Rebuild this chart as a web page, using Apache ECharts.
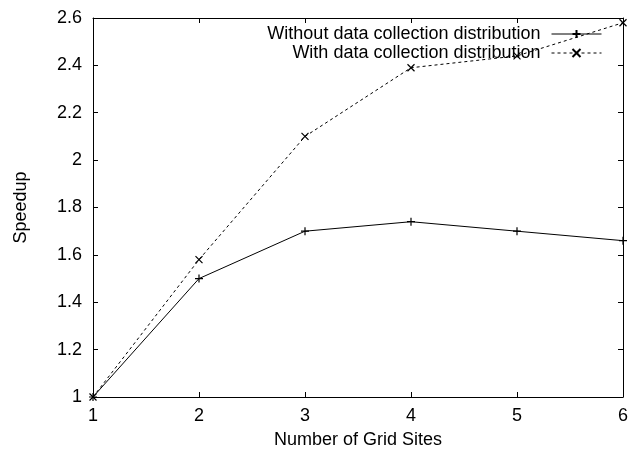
<!DOCTYPE html>
<html>
<head>
<meta charset="utf-8">
<script src="https://cdn.jsdelivr.net/npm/echarts@6/dist/echarts.min.js"></script>
<style>
  html, body { margin: 0; padding: 0; background: #fff; }
  #chart { width: 632px; height: 454px; }
</style>
</head>
<body>
<div id="chart"></div>
<script>
var gridSites = [1, 2, 3, 4, 5, 6]
var withoutDist = [1.0, 1.5, 1.70, 1.74, 1.70, 1.66]
var withDist = [1.0, 1.58, 2.10, 2.39, 2.44, 2.58]

var FONT = 'Liberation Sans, Arial, Helvetica, sans-serif'
var PLUS = 'path://M0,-1L0,1M-1,0L1,0'
var CROSS = 'path://M-1,-1L1,1M-1,1L1,-1'

function pairs(xs, ys) {
  return xs.map(function (x, i) { return [x, ys[i]] })
}

var chart = echarts.init(document.getElementById('chart'))

var baseX = {
  type: 'value',
  min: 1,
  max: 6,
  interval: 1,
  axisLine: { show: true, lineStyle: { color: '#000', width: 1 } },
  axisTick: { show: true, inside: true, length: 5, lineStyle: { color: '#000' } },
  splitLine: { show: false }
}
var baseY = {
  type: 'value',
  min: 1,
  max: 2.6,
  interval: 0.2,
  axisLine: { show: true, lineStyle: { color: '#000', width: 1 } },
  axisTick: { show: true, inside: true, length: 5, lineStyle: { color: '#000' } },
  splitLine: { show: false }
}

var legendText = { fontFamily: FONT, fontSize: 18, color: '#000', padding: [0, 6, 0, 0] }

chart.setOption({
  animation: false,
  backgroundColor: '#fff',
  grid: { left: 93, right: 9, top: 18, bottom: 55 },
  legend: [
    {
      data: ['Without data collection distribution'],
      right: 25, top: 20, align: 'right',
      itemWidth: 50, itemHeight: 10,
      lineStyle: { width: 1 },
      textStyle: legendText
    },
    {
      data: ['With data collection distribution'],
      right: 25, top: 39, align: 'right',
      itemWidth: 50, itemHeight: 10,
      lineStyle: { width: 1 },
      textStyle: legendText
    }
  ],
  xAxis: [
    Object.assign({}, baseX, {
      position: 'bottom',
      name: 'Number of Grid Sites',
      nameLocation: 'middle',
      nameGap: 34,
      nameTextStyle: { fontFamily: FONT, fontSize: 18, color: '#000' },
      axisLabel: { fontFamily: FONT, fontSize: 18, color: '#000', margin: 10 }
    }),
    Object.assign({}, baseX, { position: 'top', axisLabel: { show: false } })
  ],
  yAxis: [
    Object.assign({}, baseY, {
      position: 'left',
      name: 'Speedup',
      nameLocation: 'middle',
      nameGap: 63,
      nameTextStyle: { fontFamily: FONT, fontSize: 18, color: '#000' },
      axisLabel: { fontFamily: FONT, fontSize: 18, color: '#000', margin: 11 }
    }),
    Object.assign({}, baseY, { position: 'right', axisLabel: { show: false } })
  ],
  series: [
    {
      name: 'Without data collection distribution',
      type: 'line',
      data: pairs(gridSites, withoutDist),
      symbol: PLUS,
      symbolSize: 8,
      showAllSymbol: true,
      lineStyle: { color: '#000', width: 1, type: 'solid' },
      itemStyle: { color: 'none', borderColor: '#000', borderWidth: 1.2 }
    },
    {
      name: 'With data collection distribution',
      type: 'line',
      data: pairs(gridSites, withDist),
      symbol: CROSS,
      symbolSize: 7,
      showAllSymbol: true,
      lineStyle: { color: '#000', width: 1, type: [3, 3] },
      itemStyle: { color: 'none', borderColor: '#000', borderWidth: 1.2 }
    }
  ]
})
</script>
</body>
</html>
